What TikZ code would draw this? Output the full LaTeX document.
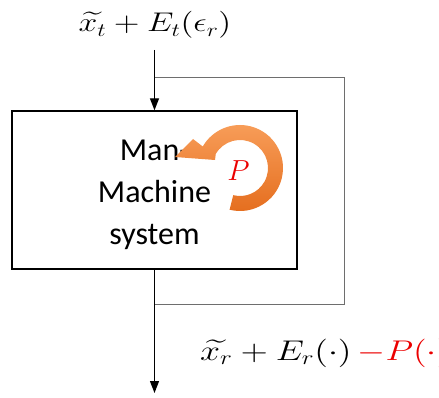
\documentclass[tikz,border=0pt]{standalone}
\usepackage{fontspec}
\newfontfamily\calibri{Carlito}
\DeclareFontShape{OML}{cmm}{m}{it}{<->cmmi12}{\skewchar\font=127}
\DeclareFontShape{OMS}{cmsy}{m}{n}{<->cmsy10}{\skewchar\font=48}
\DeclareFontShape{OMX}{cmex}{m}{n}{<->cmex10}{}
\DeclareFontShape{OT1}{cmr}{m}{n}{<->cmr12}{}
\usetikzlibrary{arrows.meta,calc}
\definecolor{fbgray}{RGB}{110,110,110}
\definecolor{pred}{RGB}{235,0,0}
\definecolor{orA}{RGB}{248,158,90}
\definecolor{orB}{RGB}{228,108,28}
\tikzset{
  flow/.style={line width=1.3pt, -{Triangle[length=12pt,width=9pt]}},
  fb/.style={line width=0.8pt, draw=fbgray},
  sysbox/.style={draw, line width=1.4pt, minimum width=285pt, minimum height=158pt, inner sep=0pt},
  mathlbl/.style={font=\fontsize{27}{32}\selectfont, inner sep=0pt},
  outlbl/.style={font=\fontsize{28.5}{33}\selectfont, inner sep=0pt},
  sysfont/.style={font=\calibri\fontsize{32}{42}\selectfont, align=center, inner sep=0pt},
}
\begin{document}
\begin{tikzpicture}[x=1pt,y=-1pt]
\useasboundingbox (0,0) rectangle (439,398);
\node[sysbox] (box) at (154.5,190) {};
\node[sysfont] (txt) at (154.5,195) {Man-\\Machine\\system};
\node[mathlbl, anchor=base] (in) at (155,32) {\scalebox{1.25}[1]{$\widetilde{x_t}+E_t(\epsilon_r)$}};
\coordinate (start) at (154.5,50);
\coordinate (split) at (154.5,77);
\coordinate (fbtr) at (344,77);
\coordinate (fbbr) at (344,304);
\coordinate (merge) at (154.5,304);
\coordinate (end) at (154.5,393);
\draw[flow] (start) -- (box.north);
\draw[fb] (split) -- (fbtr) -- (fbbr) -- (merge);
\draw[flow] (box.south) -- (end);
\node[outlbl, anchor=base west] (out) at (200,360) {\scalebox{1.26}[1]{$\widetilde{x_r}+E_r(\cdot)$\,\textcolor{pred}{$-P(\cdot)$}}};
\coordinate (c) at (240,168);
\shade[top color=orA, bottom color=orB]
  ($(c)+(104:43)$) arc[start angle=104, end angle=-150, radius=43]
  -- (193,139) -- (175,157) -- (215,160)
  -- ($(c)+(-150:28)$) arc[start angle=-150, end angle=104, radius=28] -- cycle;
\node[font=\fontsize{29}{34}\selectfont, text=pred, inner sep=0pt] (p) at (238.5,171) {$P$};
\end{tikzpicture}
\end{document}
